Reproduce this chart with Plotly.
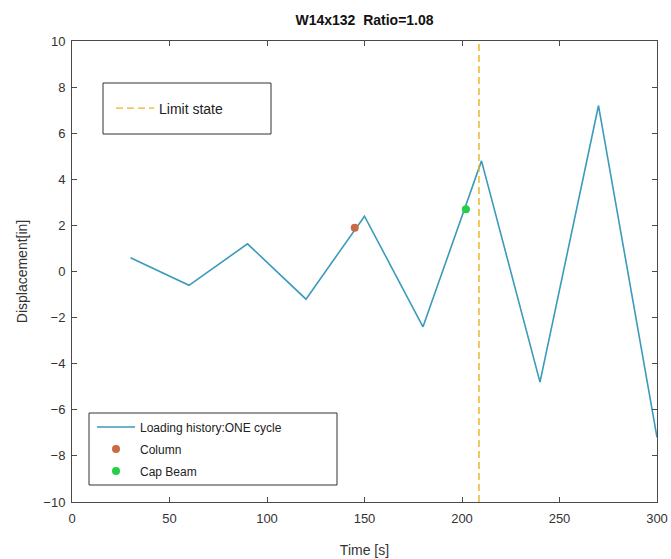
import plotly.graph_objects as go

# ---- data ----
time_s = [30, 60, 90, 120, 150, 180, 210, 240, 270, 300]
displacement_in = [0.6, -0.6, 1.2, -1.2, 2.4, -2.4, 4.8, -4.8, 7.2, -7.2]
column_time = [145]
column_disp = [1.9]
capbeam_time = [202]
capbeam_disp = [2.7]
limit_state_time = 208.7
y_limits = [-10, 10]
x_ticks = [0, 50, 100, 150, 200, 250, 300]
y_ticks = [-10, -8, -6, -4, -2, 0, 2, 4, 6, 8, 10]

FONT = "Liberation Sans, Arial, sans-serif"
AXC = "#4a4a4a"

fig = go.Figure()
fig.add_trace(go.Scatter(
    x=time_s, y=displacement_in, mode="lines",
    line=dict(color="#3A9BBA", width=1.6),
    name="Loading history:ONE cycle", legend="legend2", legendgroup="a"))
fig.add_trace(go.Scatter(
    x=column_time, y=column_disp, mode="markers",
    marker=dict(color="#C96A43", size=8),
    name="Column", legend="legend2", legendgroup="b"))
fig.add_trace(go.Scatter(
    x=capbeam_time, y=capbeam_disp, mode="markers",
    marker=dict(color="#22D046", size=8),
    name="Cap Beam", legend="legend2", legendgroup="c"))
fig.add_trace(go.Scatter(
    x=[limit_state_time, limit_state_time], y=y_limits, mode="lines",
    line=dict(color="#EDB120", width=1.4, dash="7px,4px"),
    name="Limit state", legend="legend"))

# plot area in px: x 72..657, y 41..502
W, H = 671, 559
L, R, T, B = 72, 657, 41, 502
pw, ph = R - L, B - T

def px(xp):
    return (xp - L) / pw

def py(yp):
    return (B - yp) / ph

shapes = [
    dict(type="rect", xref="paper", yref="paper",
         x0=px(103), x1=px(271), y0=py(134), y1=py(83),
         line=dict(color="#333333", width=1), fillcolor="white", layer="below"),
    dict(type="rect", xref="paper", yref="paper",
         x0=px(89), x1=px(337), y0=py(485), y1=py(413),
         line=dict(color="#333333", width=1), fillcolor="white", layer="below"),
]

axis_common = dict(
    showgrid=False, zeroline=False, showline=True, linecolor=AXC, linewidth=1,
    mirror="ticks", ticks="inside", ticklen=5, tickcolor=AXC, automargin=False,
    tickfont=dict(family=FONT, size=13, color="#333333"),
)

fig.update_layout(
    width=W, height=H,
    margin=dict(l=L, r=W - R, t=T, b=H - B, autoexpand=False),
    paper_bgcolor="white", plot_bgcolor="white",
    font=dict(family=FONT, size=13, color="#222222"),
    title=dict(text="<b>W14x132  Ratio=1.08</b>", x=px(364.5), xref="paper",
               y=1 - 20 / H, yref="container", yanchor="middle", xanchor="center",
               font=dict(family=FONT, size=14, color="#111111")),
    xaxis=dict(range=[0, 300], tickvals=x_ticks, ticklabelstandoff=4,
               title=dict(text="Time [s]", standoff=20,
                          font=dict(family=FONT, size=14, color="#333333")),
               **axis_common),
    yaxis=dict(range=y_limits, tickvals=y_ticks, ticklabelstandoff=3,
               title=dict(text="Displacement[in]", standoff=12,
                          font=dict(family=FONT, size=14, color="#333333")),
               **axis_common),
    legend=dict(x=px(111), y=py(108.5), xanchor="left", yanchor="middle",
                bgcolor="rgba(0,0,0,0)", borderwidth=0, itemwidth=38,
                font=dict(family=FONT, size=14, color="#222222")),
    legend2=dict(x=px(92), y=py(449), xanchor="left", yanchor="middle",
                 bgcolor="rgba(0,0,0,0)", borderwidth=0, itemwidth=38,
                 font=dict(family=FONT, size=12, color="#222222"),
                 tracegroupgap=3),
    shapes=shapes,
    showlegend=True,
)

fig.write_html("out.html")
